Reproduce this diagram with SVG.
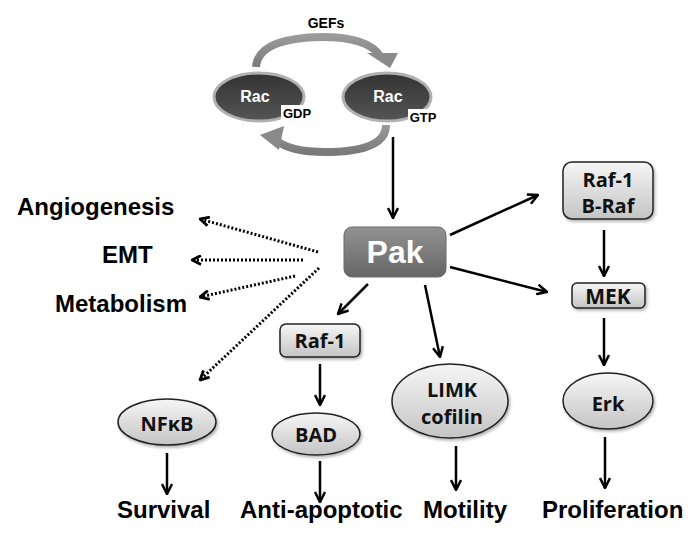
<svg xmlns="http://www.w3.org/2000/svg" width="700" height="542" viewBox="0 0 700 542">
<defs>
<linearGradient id="lg" x1="0" y1="0" x2="0" y2="1"><stop offset="0" stop-color="#f6f6f6"/><stop offset="1" stop-color="#c4c4c4"/></linearGradient>
<linearGradient id="pg" x1="0" y1="0" x2="0" y2="1"><stop offset="0" stop-color="#929292"/><stop offset="1" stop-color="#666"/></linearGradient>
<linearGradient id="rg" x1="0" y1="0" x2="0" y2="1"><stop offset="0" stop-color="#333"/><stop offset="1" stop-color="#555"/></linearGradient>
<linearGradient id="ag" x1="0" y1="0" x2="0" y2="1"><stop offset="0" stop-color="#9a9a9a"/><stop offset="1" stop-color="#7a7a7a"/></linearGradient>
<filter id="sh" x="-20%" y="-20%" width="150%" height="150%"><feDropShadow dx="1.5" dy="2" stdDeviation="1.5" flood-opacity="0.3"/></filter>
<marker id="ah" viewBox="0 0 12 12" refX="11" refY="6" markerWidth="12" markerHeight="12" markerUnits="userSpaceOnUse" orient="auto"><path d="M1,1 L11,6 L1,11" fill="none" stroke="#000" stroke-width="2.5"/></marker>
<marker id="dh" viewBox="0 0 11 11" refX="10" refY="5.5" markerWidth="11" markerHeight="11" markerUnits="userSpaceOnUse" orient="auto"><path d="M1,1 L10,5.5 L1,10" fill="none" stroke="#000" stroke-width="2.8"/></marker>
<style>
.a{stroke:#000;stroke-width:2.5;fill:none;marker-end:url(#ah)}
.d{stroke:#000;stroke-width:3;stroke-dasharray:2 2;fill:none;marker-end:url(#dh)}
.ln{fill:url(#lg);stroke:#222;stroke-width:1.5;filter:url(#sh)}
.nt{font-family:"Open Sans","Noto Sans",sans-serif;font-weight:700;font-size:20px;fill:#111;text-anchor:middle}
.lb{font-family:"Liberation Sans",Arial,sans-serif;font-weight:700;font-size:24px;fill:#000}
.rac{fill:url(#rg);stroke:#b0b0b0;stroke-width:3}
.rt{font-family:"Liberation Sans",Arial,sans-serif;font-weight:700;font-size:16px;fill:#fff;text-anchor:middle}
.gt{font-family:"Liberation Sans",Arial,sans-serif;font-weight:700;font-size:13px;fill:#000;text-anchor:middle}
.cyc{stroke:url(#ag);stroke-width:8;fill:none}
</style>
</defs>
<rect width="700" height="542" fill="#fff"/>

<g id="cycle">
<text x="326" y="28" class="gt" style="font-size:14px">GEFs</text>
<path class="cyc" d="M256,67 Q258,38 322,37 Q368,37 380,56"/>
<polygon points="367,53 398,53 390,68" fill="#8a8a8a"/>
<path class="cyc" d="M386,125 Q386,152 325,152 Q290,152 276,140"/>
<polygon points="260,135 284,126 279,150" fill="#8a8a8a"/>
</g>

<g id="rac-gdp">
<ellipse cx="259" cy="97" rx="45" ry="24" class="rac"/>
<text x="255" y="102" class="rt">Rac</text>
<rect x="281" y="105" width="33" height="16" fill="#fff"/>
<text x="297" y="118" class="gt">GDP</text>
</g>
<g id="rac-gtp">
<ellipse cx="387" cy="97" rx="44" ry="24" class="rac"/>
<text x="388" y="102" class="rt">Rac</text>
<rect x="408" y="109" width="31" height="16" fill="#fff"/>
<text x="423" y="122" class="gt">GTP</text>
</g>

<g id="pak">
<rect x="344" y="227" width="102" height="50" rx="8" fill="url(#pg)" stroke="#6a6a6a" stroke-width="1"/>
<text x="395" y="263" style="font-family:'Liberation Sans',Arial,sans-serif;font-weight:700;font-size:32px;fill:#fff;text-anchor:middle">Pak</text>
</g>

<g id="raf-braf">
<rect x="563" y="162" width="90" height="57" rx="9" class="ln"/>
<text x="608" y="187" class="nt">Raf-1</text>
<text x="608" y="213" class="nt">B-Raf</text>
</g>
<g id="mek">
<rect x="572" y="283" width="73" height="25" rx="5" class="ln"/>
<text x="608" y="304" class="nt" style="font-size:21px">MEK</text>
</g>
<g id="erk">
<ellipse cx="608" cy="401" rx="45" ry="28" class="ln"/>
<text x="608" y="411" class="nt">Erk</text>
</g>
<g id="raf1">
<rect x="280" y="324" width="80" height="33" rx="6" class="ln"/>
<text x="320" y="348" class="nt">Raf-1</text>
</g>
<g id="bad">
<ellipse cx="316" cy="434" rx="44" ry="21" class="ln"/>
<text x="316" y="442" class="nt">BAD</text>
</g>
<g id="limk">
<ellipse cx="450" cy="401" rx="58" ry="37" class="ln"/>
<text x="452" y="397" class="nt">LIMK</text>
<text x="452" y="424" class="nt">cofilin</text>
</g>
<g id="nfkb">
<ellipse cx="167" cy="422" rx="49" ry="23" class="ln"/>
<text x="167" y="431" class="nt">NFκB</text>
</g>

<g id="labels">
<text x="17" y="215" class="lb">Angiogenesis</text>
<text x="102" y="263" class="lb">EMT</text>
<text x="55" y="312" class="lb">Metabolism</text>
<text x="117" y="518" class="lb">Survival</text>
<text x="240" y="518" class="lb">Anti-apoptotic</text>
<text x="423" y="518" class="lb">Motility</text>
<text x="542" y="518" class="lb">Proliferation</text>
</g>

<g id="connectors">
<line class="a" x1="393" y1="137" x2="393" y2="218"/>
<line class="a" x1="450" y1="235" x2="538" y2="195"/>
<line class="a" x1="450" y1="267" x2="547" y2="292"/>
<line class="a" x1="604" y1="230" x2="604" y2="276"/>
<line class="a" x1="604" y1="318" x2="604" y2="365"/>
<line class="a" x1="605" y1="437" x2="605" y2="488"/>
<line class="a" x1="368" y1="284" x2="338" y2="314"/>
<line class="a" x1="320" y1="364" x2="320" y2="405"/>
<line class="a" x1="320" y1="461" x2="320" y2="502"/>
<line class="a" x1="425" y1="285" x2="440" y2="357"/>
<line class="a" x1="456" y1="446" x2="456" y2="490"/>
<line class="a" x1="167" y1="453" x2="167" y2="494"/>
<line class="d" x1="318" y1="252" x2="200" y2="219"/>
<line class="d" x1="303" y1="260" x2="192" y2="260"/>
<line class="d" x1="295" y1="276" x2="200" y2="297"/>
<line class="d" x1="319" y1="268" x2="200" y2="380"/>
</g>
</svg>
